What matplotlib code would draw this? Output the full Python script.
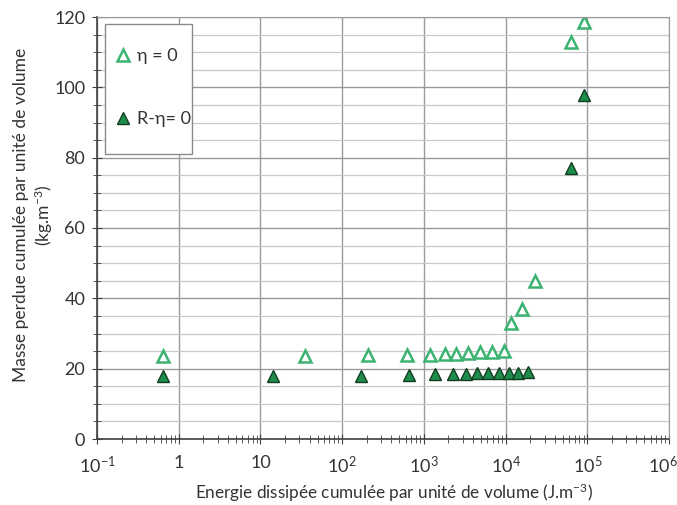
import numpy as np
import matplotlib
matplotlib.use("Agg")
import matplotlib.pyplot as plt
from matplotlib.patches import Rectangle
from matplotlib.transforms import ScaledTranslation
from matplotlib.ticker import FixedLocator, FixedFormatter, LogLocator, MultipleLocator, NullFormatter

plt.rcParams['font.family'] = ['Lato', 'DejaVu Sans']
plt.rcParams['mathtext.default'] = 'regular'

# eta = 0 (open triangles)
x_eta = [0.645, 34.7, 209, 614, 1198, 1792, 2465, 3494, 4842, 6792, 9636, 11510, 15990, 22600, 63700, 90800]
y_eta = [23.5, 23.5, 24.0, 24.0, 24.0, 24.3, 24.3, 24.4, 24.6, 24.7, 24.9, 33.0, 36.9, 45.0, 113.0, 118.5]

# R - eta = 0 (filled triangles)
x_reta = [0.645, 14.4, 168, 655, 1365, 2244, 3237, 4411, 6019, 8280, 10970, 14290, 18960, 63000, 90800]
y_reta = [17.8, 18.0, 18.0, 18.2, 18.4, 18.4, 18.5, 18.7, 18.7, 18.8, 18.8, 18.9, 19.1, 77.2, 97.8]

xticks = [0.1, 1, 10, 100, 1e3, 1e4, 1e5, 1e6]
xticklabels = [r'$10^{-1}$', '1', '10', r'$10^{2}$', r'$10^{3}$', r'$10^{4}$', r'$10^{5}$', r'$10^{6}$']

fig = plt.figure(figsize=(6.77, 5.05), dpi=100)
ax = fig.add_axes([97/677, 1 - 439/505, 572/677, 422/505])

ax.set_xscale('log')
ax.set_xlim(0.1, 1e6)
ax.set_ylim(0, 120)

ax.xaxis.set_major_locator(FixedLocator(xticks))
ax.xaxis.set_major_formatter(FixedFormatter(xticklabels))
ax.xaxis.set_minor_locator(LogLocator(base=10, subs=np.arange(2, 10)))
ax.xaxis.set_minor_formatter(NullFormatter())
ax.yaxis.set_major_locator(MultipleLocator(20))
ax.yaxis.set_minor_locator(MultipleLocator(5))

ax.grid(which='major', axis='both', color='#9a9a9a', lw=1.0)
ax.grid(which='minor', axis='y', color='#c8c8c8', lw=0.9)
ax.set_axisbelow(True)

ax.plot(x_eta, y_eta, linestyle='none', marker='^', markersize=8.5,
        markerfacecolor='white', markeredgecolor='#3cb371', markeredgewidth=1.8,
        label='η = 0')
ax.plot(x_reta, y_reta, linestyle='none', marker='^', markersize=8.5,
        markerfacecolor='#1e8c4a', markeredgecolor='#123d22', markeredgewidth=1.0,
        label='R-η= 0')

for s in ['top', 'right']:
    ax.spines[s].set_color('#9a9a9a')
for s in ['left', 'bottom']:
    ax.spines[s].set_color('#404040')
    ax.spines[s].set_linewidth(1.2)

ax.tick_params(axis='both', which='major', direction='inout', length=7, color='#404040',
               labelsize=13, labelcolor='#333333')
ax.tick_params(axis='both', which='minor', direction='inout', length=6, color='#404040')
ax.tick_params(axis='x', which='major', pad=8)
ax.tick_params(axis='y', which='major', pad=5)

# last x tick label sits against the right edge
lab = ax.get_xticklabels()[-1]
lab.set_ha('right')
lab.set_transform(lab.get_transform() + ScaledTranslation(9/100, 0, fig.dpi_scale_trans))

ax.set_xlabel('Energie dissipée cumulée par unité de volume (J.m$^{-3}$)',
              fontsize=12.3, color='#333333', va='center')
ax.xaxis.set_label_coords(0.52, -0.128)
ax.set_ylabel('Masse perdue cumulée par unité de volume\n(kg.m$^{-3}$)',
              fontsize=12.5, color='#333333')
ax.yaxis.set_label_coords(-0.073, 0.53)

# legend box
box = Rectangle((0.014, 0.676), 0.152, 0.308, transform=ax.transAxes,
                facecolor='white', edgecolor='#8a8a8a', lw=1.0, zorder=4)
ax.add_patch(box)
leg = ax.legend(loc='upper left', bbox_to_anchor=(0.029, 0.926), fontsize=13,
                labelspacing=2.6, borderpad=0, handletextpad=0.3, handlelength=1.0,
                frameon=False, borderaxespad=0)
leg.set_zorder(5)
for t in leg.get_texts():
    t.set_color('#333333')

fig.savefig('out.png', dpi=100)
